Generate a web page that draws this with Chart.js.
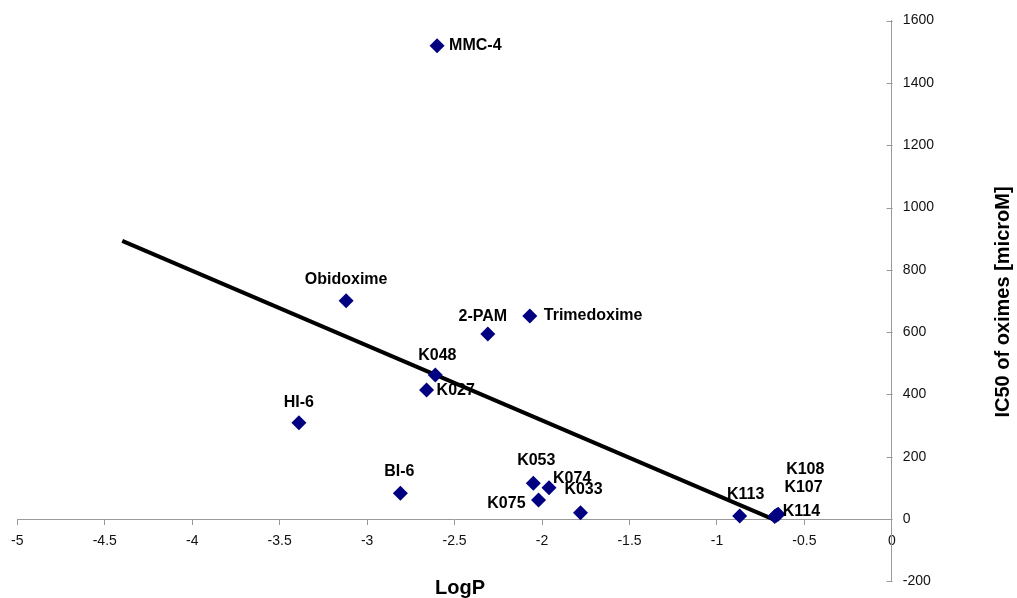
<!DOCTYPE html>
<html>
<head>
<meta charset="utf-8">
<script src="https://cdn.jsdelivr.net/npm/chart.js@4/dist/chart.umd.min.js"></script>
<style>
  html, body { margin: 0; padding: 0; background: #fff; }
  #wrap { width: 1017px; height: 598px; position: relative; }
</style>
</head>
<body>
<div id="wrap"><canvas id="myChart"></canvas></div>
<script>
"use strict";

// DATA
const oximes = ["MMC-4", "Obidoxime", "2-PAM", "Trimedoxime", "K048", "K027", "HI-6",
  "BI-6", "K053", "K074", "K075", "K033", "K113", "K114", "K107", "K108"];
const logP = [-2.6, -3.12, -2.31, -2.07, -2.61, -2.66, -3.39,
  -2.81, -2.05, -1.96, -2.02, -1.78, -0.87, -0.67, -0.66, -0.65];
const ic50 = [1519, 701, 594, 652, 462, 414, 309,
  83, 115, 100, 61, 20, 10, 8, 12, 15];

const fitLogP = [-4.4, -0.66];
const fitIC50 = [893, -5];

const xTickValues = [-5, -4.5, -4, -3.5, -3, -2.5, -2, -1.5, -1, -0.5, 0];
const yTickValues = [-200, 0, 200, 400, 600, 800, 1000, 1200, 1400, 1600];

// where each name sits next to its marker (dx, dy, align)
const labelSpots = {
  "MMC-4": [12, 0, "left"],
  "Obidoxime": [0, -21, "center"],
  "2-PAM": [-5, -17, "center"],
  "Trimedoxime": [14, 0, "left"],
  "K048": [2, -19, "center"],
  "K027": [10, 1, "left"],
  "HI-6": [0, -20, "center"],
  "BI-6": [-1, -22, "center"],
  "K053": [3, -23, "center"],
  "K074": [4, -9, "left"],
  "K075": [-13, 4, "right"],
  "K033": [3, -23, "center"],
  "K113": [6, -21, "center"],
  "K114": [8, -5, "left"],
  "K107": [8, -28, "left"],
  "K108": [8, -45, "left"],
};

const points = logP.map((x, i) => ({ x: x, y: ic50[i] }));
const fitLine = fitLogP.map((x, i) => ({ x: x, y: fitIC50[i] }));

const axisGray = "#9a9a9a";
const tickFont = { family: "'Liberation Sans', Arial, sans-serif", size: 14 };

// NAMES NEXT TO THE MARKERS
const pointNames = {
  id: "pointNames",
  afterDatasetsDraw(chart) {
    const ctx = chart.ctx;
    const meta = chart.getDatasetMeta(0);
    ctx.save();
    ctx.font = "bold 16px 'Liberation Sans', Arial, sans-serif";
    ctx.fillStyle = "#000";
    ctx.textBaseline = "middle";
    meta.data.forEach((el, i) => {
      const spot = labelSpots[oximes[i]] || [0, -20, "center"];
      ctx.textAlign = spot[2];
      ctx.fillText(oximes[i], el.x + spot[0], el.y + spot[1]);
    });
    ctx.restore();
  },
};

// AXIS TITLES + Y TICK MARKS (pointing into the plot, like the original)
const axisExtras = {
  id: "axisExtras",
  afterDraw(chart) {
    const ctx = chart.ctx;
    const xs = chart.scales.x;
    const ys = chart.scales.y;
    const x0 = Math.round(xs.getPixelForValue(0)) + 0.5;

    ctx.save();
    ctx.strokeStyle = axisGray;
    ctx.lineWidth = 1;
    ys.ticks.forEach((t) => {
      const py = Math.round(ys.getPixelForValue(t.value)) + 0.5;
      ctx.beginPath();
      ctx.moveTo(x0 - 6, py);
      ctx.lineTo(x0, py);
      ctx.stroke();
    });

    ctx.fillStyle = "#000";
    ctx.font = "bold 20px 'Liberation Sans', Arial, sans-serif";
    ctx.textAlign = "center";
    ctx.textBaseline = "alphabetic";
    ctx.fillText("LogP", 460, 594);

    ctx.translate(1009, 302);
    ctx.rotate(-Math.PI / 2);
    ctx.fillText("IC50 of oximes [microM]", 0, 0);
    ctx.restore();
  },
};

const plainNumber = (v) => String(v);

const ctx = document.getElementById("myChart").getContext("2d");
const myChart = new Chart(ctx, {
  type: "scatter",
  data: {
    datasets: [
      {
        label: "IC50",
        data: points,
        pointStyle: "rectRot",
        pointRadius: 7.5,
        pointHoverRadius: 7.5,
        backgroundColor: "#000080",
        borderWidth: 0,
      },
      {
        label: "fit",
        data: fitLine,
        showLine: true,
        borderColor: "#000",
        borderWidth: 4,
        pointRadius: 0,
        fill: false,
      },
    ],
  },
  options: {
    responsive: true,
    maintainAspectRatio: false,
    animation: false,
    events: [],
    layout: { padding: { left: 17.3, top: 20.6, right: 76, bottom: 16.7 } },
    plugins: {
      legend: { display: false },
      tooltip: { enabled: false },
    },
    scales: {
      x: {
        type: "linear",
        position: { y: 0 },
        min: -5,
        max: 0,
        afterBuildTicks: (scale) => {
          scale.ticks = xTickValues.map((v) => ({ value: v }));
        },
        grid: { drawOnChartArea: false, drawTicks: true, tickLength: 5, color: axisGray },
        border: { color: axisGray, width: 1 },
        ticks: { font: tickFont, color: "#111", padding: 9, maxRotation: 0, callback: plainNumber },
      },
      y: {
        type: "linear",
        position: "right",
        min: -200,
        max: 1600,
        afterBuildTicks: (scale) => {
          scale.ticks = yTickValues.map((v) => ({ value: v }));
        },
        // ticks on this side are drawn by axisExtras, so these stay invisible
        grid: { drawOnChartArea: false, drawTicks: true, tickLength: 4, color: "rgba(0,0,0,0)" },
        border: { color: axisGray, width: 1 },
        ticks: { font: tickFont, color: "#111", padding: 7, callback: plainNumber },
      },
    },
  },
  plugins: [pointNames, axisExtras],
});
</script>
</body>
</html>
